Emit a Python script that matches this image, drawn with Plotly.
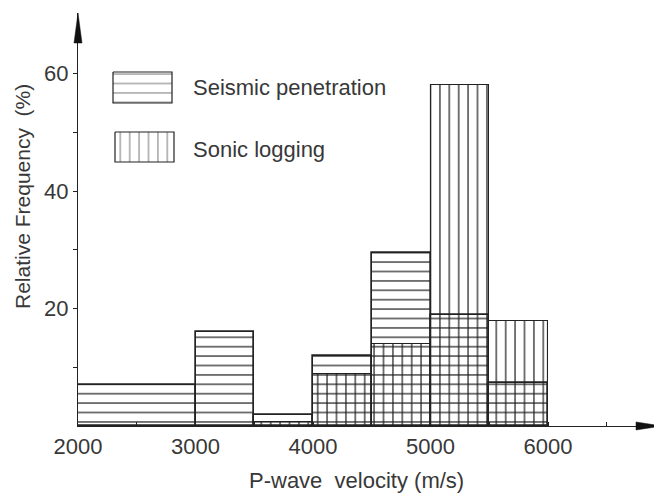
import plotly.graph_objects as go

# ---- data ----
bin_edges = [2000, 2500, 3000, 3500, 4000, 4500, 5000, 5500, 6000]
seismic = [6.9, 6.9, 16.0, 1.9, 11.9, 29.4, 18.9, 7.4]
sonic = [0.0, 0.0, 0.0, 0.7, 8.9, 13.9, 58.0, 17.9]
series_names = ["Seismic penetration", "Sonic logging"]
x_tick_vals = [2000, 2500, 3000, 3500, 4000, 4500, 5000, 5500, 6000, 6500]
x_tick_text = ["2000", "", "3000", "", "4000", "", "5000", "", "6000", ""]
y_tick_vals = [10, 20, 30, 40, 50, 60]
y_tick_text = ["", "20", "", "40", "", "60"]

# ---- layout constants (page has an 8px body margin) ----
OFF = 8
W, H = 662 - OFF, 494 - OFF
ML, MR, MT, MB = 78 - OFF, 0, 13 - OFF, 68
PW, PH = W - ML - MR, H - MT - MB
X_RANGE = [2000, 6970]
Y_RANGE = [0, 70.3]
INK = "#222222"
TXT = "#383838"
HATCH_INK = "#1e1e1e"
FONT = "Liberation Sans, Arial, sans-serif"
HATCH = 9.4


def runs(edges, vals):
    """merge adjacent equal non-zero bins into single bars"""
    xs, ws, ys = [], [], []
    i = 0
    while i < len(vals):
        if vals[i] <= 0:
            i += 1
            continue
        j = i
        while j + 1 < len(vals) and vals[j + 1] == vals[i]:
            j += 1
        left, right = edges[i], edges[j + 1]
        xs.append((left + right) / 2)
        ws.append(right - left)
        ys.append(vals[i])
        i = j + 1
    return xs, ws, ys


# reference-pixel -> data conversions
def px2x(p):
    return X_RANGE[0] + (p - OFF - ML) / PW * (X_RANGE[1] - X_RANGE[0])


def px2y(p):
    return Y_RANGE[0] + ((MT + PH) - (p - OFF)) / PH * (Y_RANGE[1] - Y_RANGE[0])


def px2paper_x(p):
    return (p - OFF - ML) / PW


def px2paper_y(p):
    return ((MT + PH) - (p - OFF)) / PH


fig = go.Figure()

for name, vals, shape, lw in [(series_names[0], seismic, "-", 1.7),
                              (series_names[1], sonic, "|", 1.1)]:
    xs, ws, ys = runs(bin_edges, vals)
    fig.add_trace(go.Bar(
        x=xs, y=ys, width=ws, name=name, showlegend=False,
        marker=dict(color="rgba(0,0,0,0)",
                    line=dict(color=INK, width=lw),
                    pattern=dict(shape=shape, size=HATCH, solidity=0.13,
                                 fgcolor=HATCH_INK, bgcolor="rgba(0,0,0,0)",
                                 fillmode="replace")),
        hoverinfo="skip",
    ))

# ---- legend swatches (drawn as patterned boxes) ----
swatches = [
    (series_names[0], "-", (113, 172, 72, 103), 87),
    (series_names[1], "|", (115, 174, 132, 162), 149),
]
for name, shape, (x0, x1, y0, y1), ty in swatches:
    xa, xb, ya, yb = px2x(x0), px2x(x1), px2y(y0), px2y(y1)
    fig.add_trace(go.Scatter(
        x=[xa, xb, xb, xa, xa], y=[ya, ya, yb, yb, ya],
        mode="lines", fill="toself", showlegend=False, hoverinfo="skip",
        line=dict(color=INK, width=1.2),
        fillcolor="rgba(0,0,0,0)",
        fillpattern=dict(shape=shape, size=HATCH, solidity=0.13,
                         fgcolor=HATCH_INK, bgcolor="rgba(0,0,0,0)"),
    ))
    fig.add_annotation(x=px2x(191), y=px2y(ty), text=name, showarrow=False,
                       xanchor="left", yanchor="middle",
                       font=dict(family=FONT, size=22, color=TXT))

# ---- axis titles ----
fig.add_annotation(xref="paper", yref="paper", x=px2paper_x(22),
                   y=px2paper_y(197), text="Relative Frequency  (%)",
                   textangle=-90, showarrow=False, xanchor="center", yanchor="middle",
                   font=dict(family=FONT, size=21, color=TXT))
fig.add_annotation(xref="paper", yref="paper", x=px2paper_x(356),
                   y=px2paper_y(480), text="P-wave  velocity (m/s)",
                   showarrow=False, xanchor="center", yanchor="middle",
                   font=dict(family=FONT, size=22, color=TXT))

# ---- arrowheads on axes ----
hx, hw = 26 / PW, 4 / PH
fig.add_shape(type="path", xref="paper", yref="paper",
              path=f"M 1 0 L {1 - hx} {hw} L {1 - hx} {-hw} Z",
              fillcolor="#111", line=dict(color="#111", width=0.5))
vy, vw = 30 / PH, 4 / PW
fig.add_shape(type="path", xref="paper", yref="paper",
              path=f"M 0 1 L {vw} {1 - vy} L {-vw} {1 - vy} Z",
              fillcolor="#111", line=dict(color="#111", width=0.5))

fig.update_layout(
    width=W, height=H,
    margin=dict(l=ML, r=MR, t=MT, b=MB, pad=0),
    paper_bgcolor="white", plot_bgcolor="white",
    barmode="overlay", bargap=0,
    font=dict(family=FONT, size=22, color=TXT),
    xaxis=dict(range=X_RANGE, showgrid=False, zeroline=False,
               showline=True, linecolor=INK, linewidth=1.3,
               tickmode="array", tickvals=x_tick_vals, ticktext=x_tick_text,
               ticks="inside", ticklen=4, tickcolor=INK, tickwidth=1,
               tickfont=dict(family=FONT, size=22, color=TXT)),
    yaxis=dict(range=Y_RANGE, showgrid=False, zeroline=False,
               showline=True, linecolor=INK, linewidth=1.3,
               tickmode="array", tickvals=y_tick_vals, ticktext=y_tick_text,
               ticks="outside", ticklen=4, tickcolor=INK, tickwidth=1,
               tickfont=dict(family=FONT, size=22, color=TXT)),
)

fig.write_html("out.html")
